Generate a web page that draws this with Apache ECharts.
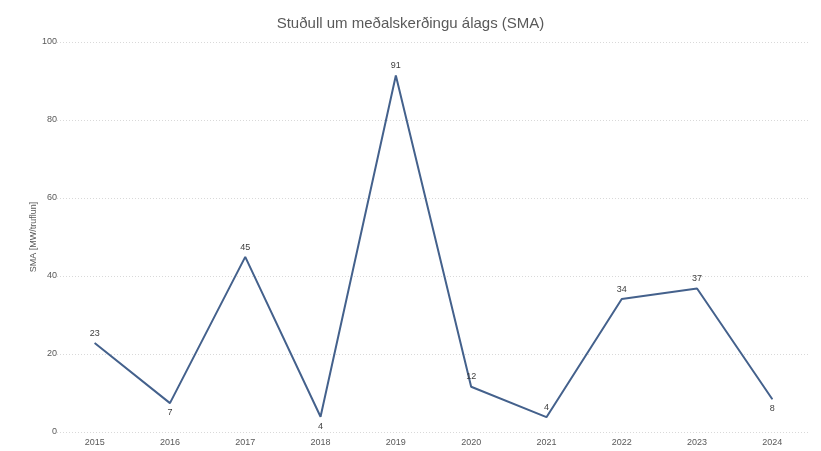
<!DOCTYPE html>
<html>
<head>
<meta charset="utf-8">
<script src="https://cdn.jsdelivr.net/npm/echarts@6/dist/echarts.min.js"></script>
<style>html,body{margin:0;padding:0;background:#fff}#c{width:821px;height:451px}</style>
</head>
<body>
<div id="c"></div>
<script>
const years = ['2015','2016','2017','2018','2019','2020','2021','2022','2023','2024'];
const smaValues = [22.8, 7.4, 44.9, 3.9, 91.4, 11.6, 3.8, 34.1, 36.8, 8.4];
const yTicks = [0, 20, 40, 60, 80, 100];

const labelBelow = new Set([1, 3, 9]);
const chart = echarts.init(document.getElementById('c'));
const font = 'Liberation Sans, Arial, sans-serif';
chart.setOption({
  animation: false,
  title: {
    text: 'Stuðull um meðalskerðingu álags (SMA)',
    left: 'center', top: 11,
    textStyle: { fontFamily: font, fontSize: 15, fontWeight: 'normal', color: '#595959' }
  },
  grid: { left: 57, right: 11, top: 42, bottom: 19 },
  xAxis: {
    type: 'category', data: years, boundaryGap: true,
    axisLine: { show: false }, axisTick: { show: false },
    axisLabel: { fontFamily: font, fontSize: 9, color: '#595959', margin: 6 }
  },
  yAxis: {
    type: 'value', min: yTicks[0], max: yTicks[yTicks.length - 1], interval: 20,
    name: 'SMA [MW/truflun]', nameLocation: 'middle', nameGap: 19,
    nameMoveOverlap: false,
    nameTextStyle: { fontFamily: font, fontSize: 9, color: '#595959' },
    axisLine: { show: false }, axisTick: { show: false },
    axisLabel: { fontFamily: font, fontSize: 9, color: '#595959', margin: 0 },
    splitLine: { lineStyle: { color: '#D9D9D9', type: [1, 2], width: 1 } }
  },
  series: [{
    type: 'line',
    data: smaValues.map((v, i) => ({
      value: v,
      label: { show: true, position: labelBelow.has(i) ? 'bottom' : 'top' }
    })),
    symbol: 'circle', symbolSize: 0.5, showSymbol: true,
    itemStyle: { color: '#44618C' },
    lineStyle: { color: '#44618C', width: 2 },
    label: {
      show: true, distance: 5,
      formatter: p => Math.round(p.value),
      fontFamily: font, fontSize: 9, color: '#404040'
    }
  }]
});
</script>
</body>
</html>
